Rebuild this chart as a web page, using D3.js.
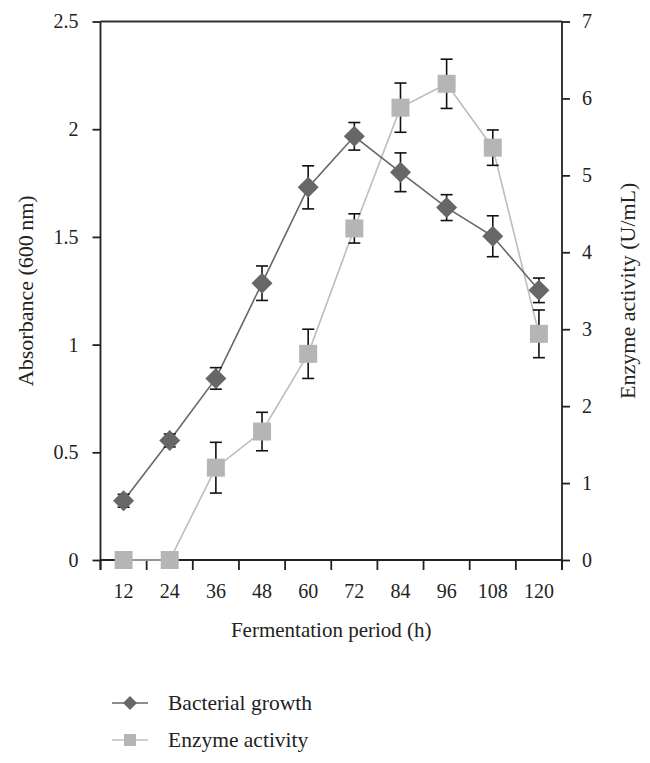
<!DOCTYPE html>
<html><head><meta charset="utf-8">
<script src="https://cdn.jsdelivr.net/npm/d3@7/dist/d3.min.js"></script>
<style>body{margin:0;background:#fff}svg{display:block}</style>
</head><body>
<svg id="c" width="650" height="763"></svg>
<script>
const categories = [12, 24, 36, 48, 60, 72, 84, 96, 108, 120];
const growth = [0.275, 0.555, 0.843, 1.285, 1.73, 1.967, 1.80, 1.636, 1.503, 1.252];
const growthErr = [0.03, 0.03, 0.05, 0.08, 0.1, 0.064, 0.09, 0.06, 0.095, 0.057];
const enzyme = [0, 0, 1.2, 1.67, 2.68, 4.31, 5.88, 6.19, 5.36, 2.94];
const enzymeErr = [0, 0, 0.33, 0.25, 0.32, 0.19, 0.32, 0.32, 0.23, 0.31];
const leftTicks = [0, 0.5, 1, 1.5, 2, 2.5];
const rightTicks = [0, 1, 2, 3, 4, 5, 6, 7];

const svg = d3.select("#c");
const font = "'Liberation Serif', 'DejaVu Serif', serif";
const L = 100.5, R = 562, T = 21.5, B = 560;
const x = d3.scaleBand().domain(categories).range([L, R]);
const yL = d3.scaleLinear().domain([0, 2.5]).range([B, T]);
const yR = d3.scaleLinear().domain([0, 7]).range([B, T]);
const cx = d => x(d) + x.bandwidth() / 2;

svg.append("line").attr("x1", L).attr("x2", R).attr("y1", T).attr("y2", T)
  .attr("stroke", "#333").attr("stroke-width", 1.8);

const gl = svg.append("g").attr("transform", `translate(${L},0)`)
  .call(d3.axisLeft(yL).tickValues(leftTicks).tickSize(8).tickPadding(14).tickFormat(d3.format("")));
const gr = svg.append("g").attr("transform", `translate(${R},0)`)
  .call(d3.axisRight(yR).tickValues(rightTicks).tickSize(8).tickPadding(12).tickFormat(d3.format("")));
const gb = svg.append("g").attr("transform", `translate(0,${B})`)
  .call(d3.axisBottom(x).tickSize(0).tickPadding(27));
gb.selectAll(".edge").data(d3.range(categories.length + 1)).enter().append("line")
  .attr("x1", i => L + i * x.step()).attr("x2", i => L + i * x.step())
  .attr("y1", 0).attr("y2", 10).attr("stroke", "#222").attr("stroke-width", 1.8);

[gl, gr, gb].forEach(g => {
  g.select(".domain").attr("stroke", "#222").attr("stroke-width", 1.8);
  g.selectAll(".tick line").attr("stroke", "#222").attr("stroke-width", 1.8);
  g.selectAll("text").attr("font-family", font).attr("font-size", 20).attr("fill", "#222");
});
gb.selectAll("text").attr("dy", "0.55em");
gl.select(".domain").attr("d", `M0,${B + 10}V${T}`);
gr.select(".domain").attr("d", `M0,${B + 10}V${T}`);
gb.select(".domain").attr("d", `M${L},0H${R}`);

svg.append("text").attr("transform", `translate(33,${(T + B) / 2}) rotate(-90)`)
  .attr("text-anchor", "middle").attr("font-family", font).attr("font-size", 22).attr("fill", "#222")
  .text("Absorbance (600\u2009nm)");
svg.append("text").attr("transform", `translate(635,${(T + B) / 2}) rotate(-90)`)
  .attr("text-anchor", "middle").attr("font-family", font).attr("font-size", 22).attr("fill", "#222")
  .text("Enzyme activity (U/mL)");
svg.append("text").attr("x", (L + R) / 2).attr("y", 637)
  .attr("text-anchor", "middle").attr("font-family", font).attr("font-size", 21).attr("fill", "#222")
  .text("Fermentation period (h)");

const gColor = "#676767", eColor = "#b5b5b5", eLine = "#bdbdbd";

svg.append("path").datum(categories.map((c, i) => [cx(c), yR(enzyme[i])]))
  .attr("d", d3.line()).attr("fill", "none").attr("stroke", eLine).attr("stroke-width", 1.6);
svg.append("path").datum(categories.map((c, i) => [cx(c), yL(growth[i])]))
  .attr("d", d3.line()).attr("fill", "none").attr("stroke", gColor).attr("stroke-width", 1.6);

function errBars(vals, errs, y) {
  const g = svg.append("g").attr("stroke", "#111").attr("stroke-width", 1.6);
  categories.forEach((c, i) => {
    if (!errs[i]) return;
    const xc = cx(c), y1 = y(vals[i] + errs[i]), y2 = y(vals[i] - errs[i]);
    g.append("line").attr("x1", xc).attr("x2", xc).attr("y1", y1).attr("y2", y2);
    g.append("line").attr("x1", xc - 6).attr("x2", xc + 6).attr("y1", y1).attr("y2", y1);
    g.append("line").attr("x1", xc - 6).attr("x2", xc + 6).attr("y1", y2).attr("y2", y2);
  });
}
errBars(enzyme, enzymeErr, yR);
errBars(growth, growthErr, yL);

const sq = 18, dm = 10.5;
svg.append("g").selectAll("rect").data(categories).enter().append("rect")
  .attr("x", (c) => cx(c) - sq / 2).attr("y", (c, i) => yR(enzyme[i]) - sq / 2)
  .attr("width", sq).attr("height", sq).attr("fill", eColor);
const diamond = (px, py, r) => `M${px},${py - r}L${px + r},${py}L${px},${py + r}L${px - r},${py}Z`;
svg.append("g").selectAll("path").data(categories).enter().append("path")
  .attr("d", (c, i) => diamond(cx(c), yL(growth[i]), dm)).attr("fill", gColor);

const lg = svg.append("g");
lg.append("line").attr("x1", 112).attr("x2", 148).attr("y1", 703).attr("y2", 703).attr("stroke", gColor).attr("stroke-width", 1.6);
lg.append("path").attr("d", diamond(130, 703, 7)).attr("fill", gColor);
lg.append("text").attr("x", 168).attr("y", 710).attr("font-family", font).attr("font-size", 21.5).attr("fill", "#222").text("Bacterial growth");
lg.append("line").attr("x1", 112).attr("x2", 148).attr("y1", 740).attr("y2", 740).attr("stroke", eLine).attr("stroke-width", 1.6);
lg.append("rect").attr("x", 124).attr("y", 734).attr("width", 12).attr("height", 12).attr("fill", eColor);
lg.append("text").attr("x", 168).attr("y", 747).attr("font-family", font).attr("font-size", 21.5).attr("fill", "#222").text("Enzyme activity");
</script>
</body></html>
